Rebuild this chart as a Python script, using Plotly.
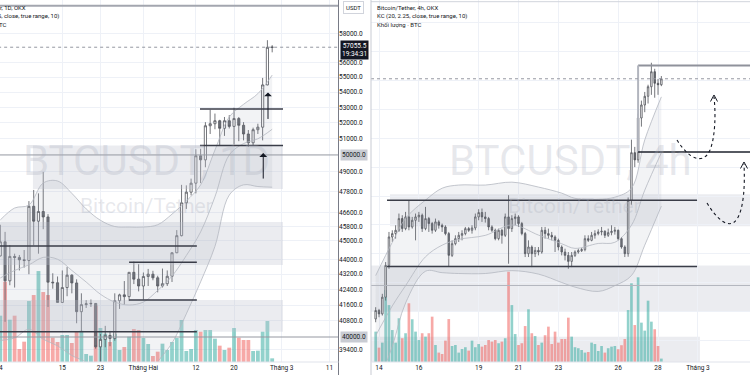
import math
import pandas as pd
import plotly.graph_objects as go

# ---------------- Daily BTC/USDT (left panel) ----------------
d_dates = pd.date_range("2024-01-02", "2024-02-28", freq="D")
d_open = [44180, 44950, 42850, 44150, 44100, 43970, 43930, 46950, 46100, 46650, 46340, 42780, 42750, 41730,
          42500, 43150, 42740, 41260, 41620, 41660, 41680, 39520, 39880, 40080, 39930, 41820, 42120, 42030,
          43300, 42940, 42580, 43080, 43200, 43010, 42580, 42700, 43090, 44350, 45290, 47150, 47770, 48300,
          49950, 49700, 51820, 51950, 52140, 51660, 52140, 51780, 52280, 51850, 51300, 50750, 51570, 51730,
          54480, 57050]
d_high = [45900, 45500, 44770, 44300, 44230, 44500, 47250, 47900, 47700, 48970, 46500, 43250, 43080, 43400,
          43580, 43200, 42930, 42200, 41850, 41880, 41700, 40150, 40550, 40300, 42200, 42180, 42840, 43300,
          43880, 43740, 43290, 43480, 43380, 43120, 43500, 43400, 44380, 45600, 48200, 48170, 48570, 50350,
          50380, 52050, 52850, 52600, 52200, 52380, 52500, 52980, 52380, 52050, 51550, 51700, 51950, 54950,
          57550, 57200]
d_low = [44150, 40750, 42620, 42500, 43400, 43550, 43200, 44750, 44300, 45650, 41500, 42440, 41720, 41720,
         42050, 42200, 40680, 40280, 41450, 41500, 39430, 38550, 39500, 39550, 39820, 41400, 41620, 41800,
         42680, 42300, 41880, 42580, 42880, 42250, 42500, 42580, 42790, 44330, 45250, 46800, 47580, 47700,
         48300, 49250, 51300, 51600, 50600, 51180, 51650, 50650, 50850, 50900, 50500, 50580, 51300, 50900,
         54450, 56700]
d_close = [44950, 42850, 44150, 44100, 43970, 43930, 46950, 46100, 46650, 46340, 42780, 42750, 41730, 42500,
           43150, 42740, 41260, 41620, 41660, 41680, 39520, 39880, 40080, 39930, 41820, 42120, 42030, 43300,
           42940, 42580, 43080, 43200, 43010, 42580, 42700, 43090, 44350, 45290, 47150, 47770, 48300, 49950,
           49700, 51820, 51950, 52140, 51660, 52140, 51780, 52280, 51850, 51300, 50750, 51570, 51730, 54480,
           57050, 57055.5]
d_vol = [13.9, 24.1, 12.7, 13.9, 3.9, 6.1, 18.3, 20.1, 27.3, 21.0, 20.1, 7.3, 6.0, 8.1, 8.1, 5.7, 9.1, 9.4,
         2.4, 1.9, 16.9, 10.2, 8.5, 6.0, 8.4, 3.6, 4.5, 7.6, 9.9, 9.6, 7.2, 5.4, 1.8, 3.1, 5.5, 3.6, 6.0, 7.2,
         12.6, 3.3, 3.9, 9.6, 9.1, 9.6, 9.6, 7.0, 4.9, 3.6, 4.3, 10.2, 7.3, 6.6, 6.6, 3.3, 3.4, 9.1, 12.3, 1.1]

l_kc_t = ["2024-01-02", "2024-01-05", "2024-01-08", "2024-01-11", "2024-01-14", "2024-01-17", "2024-01-20",
          "2024-01-23", "2024-01-26", "2024-01-29", "2024-02-01", "2024-02-04", "2024-02-07", "2024-02-10",
          "2024-02-13", "2024-02-16", "2024-02-19", "2024-02-22", "2024-02-25", "2024-02-28"]
l_kc_up = [46170, 46850, 47020, 48310, 48430, 47700, 46800, 46150, 45800, 45770, 45770, 45900, 46500, 47250,
           48200, 50300, 52380, 53200, 53900, 55140]
l_kc_mid = [43000, 43400, 43700, 44100, 44000, 43400, 42790, 42150, 41750, 41600, 41750, 42350, 43100, 44200,
            45500, 47500, 50000, 50700, 51000, 51600]
l_kc_lo = [39830, 39950, 40380, 39890, 39570, 39100, 38780, 38150, 37700, 37430, 37730, 38800, 39700, 41150,
           42800, 44700, 47600, 48200, 48100, 48060]

# ---------------- 4h BTC/USDT (right panel) ----------------
h_times = pd.date_range("2024-02-13 20:00", periods=87, freq="4h")
h_open = [48750, 49040, 48924, 49502, 50601, 51584, 51700, 51816, 52220, 51873, 52278, 51931, 52162, 52278,
          52336, 51873, 52220, 52047, 51816, 52105, 51989, 51931, 51700, 50948, 51353, 51526, 51642, 51700,
          51873, 51816, 51896, 52278, 52429, 52278, 52220, 51931, 51816, 51526, 51816, 51642, 52278, 51873,
          52220, 52278, 52047, 51700, 51006, 51237, 51006, 51121, 51064, 51816, 51700, 51642, 51584, 51468,
          51237, 51064, 50948, 50740, 50948, 51064, 51110, 51145, 51526, 51468, 51642, 51700, 51758, 51781,
          51642, 51735, 51781, 51816, 51526, 51237, 51006, 52850, 54500, 54250, 55700, 56150, 56450, 56780,
          57300, 56900, 56850]
h_high = [49155, 49097, 49618, 50717, 51758, 51816, 51989, 52394, 52336, 52452, 52857, 52278, 52394, 52452,
          52394, 52625, 52278, 52105, 52220, 52162, 52047, 51989, 51758, 51468, 51642, 51758, 51816, 51931,
          51931, 51989, 52394, 52544, 52567, 52452, 52278, 51989, 51873, 51873, 51873, 52394, 53030, 52336,
          52394, 52336, 52105, 51758, 51468, 51295, 51237, 51237, 51931, 51931, 51873, 51758, 51642, 51526,
          51295, 51179, 51064, 51064, 51121, 51179, 51202, 51642, 51642, 51758, 51816, 51850, 51931, 51816,
          51873, 51989, 51931, 51839, 51584, 51295, 52950, 54950, 54700, 55850, 56300, 56600, 56850, 57610,
          57400, 57050, 57150]
h_low = [48635, 48808, 48866, 49387, 50485, 51411, 51526, 51758, 51758, 51816, 51816, 51873, 51468, 52105,
         51758, 51816, 51758, 51700, 51758, 51873, 51758, 51642, 50566, 50890, 51295, 51411, 51468, 51642,
         51758, 51700, 51816, 52162, 52105, 52082, 51816, 51758, 51468, 51468, 51353, 51584, 50659, 51758,
         51989, 51931, 51642, 50890, 50890, 50543, 50890, 50948, 51006, 51526, 51526, 51468, 51064, 51121,
         50948, 50774, 50485, 50543, 50890, 51006, 51064, 51087, 51411, 51434, 51526, 51642, 51642, 51549,
         51584, 51642, 51665, 51468, 51179, 50890, 50900, 52700, 54000, 54150, 55400, 55900, 56200, 56500,
         56400, 56500, 56800]
h_close = [49040, 48924, 49502, 50601, 51584, 51700, 51816, 52220, 51873, 52278, 51931, 52162, 52278, 52336,
           51873, 52220, 52047, 51816, 52105, 51989, 51931, 51700, 50948, 51353, 51526, 51642, 51700, 51873,
           51816, 51896, 52278, 52429, 52278, 52220, 51931, 51816, 51526, 51816, 51642, 52278, 51873, 52220,
           52278, 52047, 51700, 51006, 51237, 51006, 51121, 51064, 51816, 51700, 51642, 51584, 51468, 51237,
           51064, 50948, 50740, 50948, 51064, 51110, 51145, 51526, 51468, 51642, 51700, 51758, 51781, 51642,
           51735, 51781, 51816, 51526, 51237, 51006, 52850, 54500, 54250, 55700, 56150, 56450, 56780, 57300,
           56900, 56850, 57055.5]
h_vol = [1.52, 0.72, 0.97, 3.6, 2.85, 1.6, 0.97, 2.19, 1.19, 1.44, 2.94, 2.14, 1.52, 1.1, 1.44, 1.27, 1.44,
         2.27, 0.85, 0.47, 0.4, 1.07, 2.15, 0.8, 0.85, 0.47, 0.65, 0.74, 0.57, 1.07, 0.74, 0.9, 0.77, 0.85,
         1.1, 1.02, 1.1, 0.94, 1.02, 1.19, 4.52, 2.85, 1.4, 0.85, 0.94, 1.8, 2.64, 1.44, 1.3, 0.85, 0.97,
         1.34, 1.77, 0.9, 1.52, 0.97, 1.15, 1.15, 2.22, 1.27, 0.74, 0.69, 0.6, 0.47, 0.5, 0.97, 0.9, 0.55,
         0.8, 0.47, 0.69, 0.77, 0.8, 0.64, 0.84, 1.15, 2.6, 3.94, 1.85, 4.24, 1.97, 1.57, 3.07, 2.02, 1.64,
         0.8, 0.17]

r_kc_t = ["2024-02-13 20:00", "2024-02-14 16:00", "2024-02-15 08:00", "2024-02-16 08:00", "2024-02-17 04:00",
          "2024-02-18 00:00", "2024-02-19 08:00", "2024-02-20 16:00", "2024-02-22 00:00", "2024-02-23 04:00",
          "2024-02-23 20:00", "2024-02-25 00:00", "2024-02-25 20:00", "2024-02-26 16:00", "2024-02-27 08:00",
          "2024-02-28 04:00"]
r_kc_up = [50250, 51400, 52230, 52860, 53270, 53380, 53380, 53480, 53310, 53100, 52920, 52890, 52960, 53270,
           54940, 56430]
r_kc_mid = [48170, 49200, 49900, 50900, 51300, 51500, 51640, 52000, 51650, 51350, 51190, 51360, 51400, 51990,
            53200, 54500]
r_kc_lo = [46300, 47800, 49300, 50400, 50350, 50320, 50320, 50420, 50300, 50010, 49850, 49700, 49900, 50250,
           51300, 52650]

# ---------------- axis ticks ----------------
l_ytick_vals = [58000, 56000, 55000, 54000, 53000, 52000, 51000, 49000, 47800, 46600, 45800, 45000,
                44000, 43200, 42400, 41600, 40800, 39400]
l_ytick_text = [f"{v:.1f}" for v in l_ytick_vals]
l_xtick_vals = ["2024-01-15", "2024-01-23", "2024-02-01", "2024-02-12", "2024-02-20", "2024-03-01", "2024-03-11"]
l_xtick_text = ["15", "23", "Tháng Hai", "12", "20", "Tháng 3", "11"]
r_xtick_vals = ["2024-02-14", "2024-02-16", "2024-02-19", "2024-02-21", "2024-02-23", "2024-02-26",
                "2024-02-28", "2024-03-01"]
r_xtick_text = ["14", "16", "19", "21", "23", "26", "28", "Tháng 3"]

last_price = 57055.5

# ---------------- styling ----------------
W, PH = 750, 362
TEAL = "rgba(38,166,154,0.5)"
RED = "rgba(239,83,80,0.5)"
GRID = "#eef1f7"
KC_LINE = "#b4b7c0"
KC_FILL = "rgba(150,155,172,0.12)"
ZONE = "rgba(188,192,205,0.30)"
DARK = "#3a3d48"
FONT = "Roboto, Arial, sans-serif"
L = math.log10


def P(x, y):
    return f"{x / W:.5f},{1 - y / PH:.5f}"


fig = go.Figure()

# volume (drawn first, underneath price)
fig.add_trace(go.Bar(x=d_dates, y=d_vol, xaxis="x", yaxis="y", hoverinfo="skip",
                     marker=dict(color=[TEAL if c >= o else RED for o, c in zip(d_open, d_close)], line_width=0)))
fig.add_trace(go.Bar(x=h_times, y=h_vol, xaxis="x2", yaxis="y3", hoverinfo="skip",
                     marker=dict(color=[TEAL if c >= o else RED for o, c in zip(h_open, h_close)], line_width=0)))


def zone(xa, ya, x0, x1, y0, y1):
    fig.add_trace(go.Scatter(x=[x0, x1, x1, x0, x0], y=[y0, y0, y1, y1, y0], mode="lines", fill="toself",
                             fillcolor=ZONE, line=dict(width=0), xaxis=xa, yaxis=ya, hoverinfo="skip"))


def seg(xa, ya, x0, x1, y, color=DARK, width=1.5, dash="solid"):
    fig.add_trace(go.Scatter(x=[x0, x1], y=[y, y], mode="lines", line=dict(color=color, width=width, dash=dash),
                             xaxis=xa, yaxis=ya, hoverinfo="skip"))


def kc(t, up, mid, lo, xa, ya):
    ln = dict(color=KC_LINE, width=0.8, shape="spline")
    fig.add_trace(go.Scatter(x=t, y=up, mode="lines", line=ln, xaxis=xa, yaxis=ya, hoverinfo="skip"))
    fig.add_trace(go.Scatter(x=t, y=lo, mode="lines", line=ln, fill="tonexty", fillcolor=KC_FILL,
                             xaxis=xa, yaxis=ya, hoverinfo="skip"))
    fig.add_trace(go.Scatter(x=t, y=mid, mode="lines", line=ln, xaxis=xa, yaxis=ya, hoverinfo="skip"))


def candles(x, o, h, l, c, xa, ya):
    fig.add_trace(go.Candlestick(
        x=x, open=o, high=h, low=l, close=c, xaxis=xa, yaxis=ya, hoverinfo="skip", whiskerwidth=0,
        increasing=dict(line=dict(color="#505359", width=0.8), fillcolor="#ffffff"),
        decreasing=dict(line=dict(color="#505359", width=0.8), fillcolor="#6b6e75")))


# left panel: zones, KC, candles, drawn levels
zone("x", "y2", "2024-01-08 20:30", "2024-03-01 06:30", 47950, 50580)
zone("x", "y2", "2023-12-25", "2024-03-01 06:30", 43690, 46060)
zone("x", "y2", "2023-12-25", "2024-03-01 06:30", 40260, 41856)
kc(l_kc_t, l_kc_up, l_kc_mid, l_kc_lo, "x", "y2")
candles(d_dates, d_open, d_high, d_low, d_close, "x", "y2")
seg("x", "y2", "2023-12-25", "2024-02-12 05:00", 44720)
seg("x", "y2", "2023-12-25", "2024-02-12 05:00", 40260)
seg("x", "y2", "2024-01-29", "2024-02-12 05:00", 43835)
seg("x", "y2", "2024-01-29", "2024-02-12 05:00", 41856)
seg("x", "y2", "2024-02-12 20:40", "2024-03-01 06:30", 52890)
seg("x", "y2", "2024-02-12 20:40", "2024-03-01 06:30", 50580)
seg("x", "y2", "2023-12-25", "2024-03-20", 60030, color="#a3a6af", width=2)
seg("x", "y2", "2023-12-25", "2024-03-20", last_price, color="#9598a1", width=1, dash="dot")
seg("x", "y2", "2023-12-25", "2024-03-20", 50000, color="#9598a1", width=1)
seg("x", "y2", "2023-12-25", "2024-03-20", 40000, color="#9598a1", width=1)

# right panel
kc(r_kc_t, r_kc_up, r_kc_mid, r_kc_lo, "x2", "y4")
candles(h_times, h_open, h_high, h_low, h_close, "x2", "y4")

shapes = []


def rect(xr, yr, x0, x1, y0, y1, fill=ZONE, layer="below"):
    shapes.append(dict(type="rect", xref=xr, yref=yr, x0=x0, x1=x1, y0=y0, y1=y1, fillcolor=fill,
                       line=dict(width=0), layer=layer))


def hline(xr, yr, x0, x1, y, color=DARK, width=1.5, dash="solid"):
    shapes.append(dict(type="line", xref=xr, yref=yr, x0=x0, x1=x1, y0=y, y1=y,
                       line=dict(color=color, width=width, dash=dash), layer="above"))


rect("x2", "y4", "2024-02-14 13:15", "2024-03-06", 51954, 53065)
rect("x2", "y4", "2024-02-12", "2024-03-06", 49005, 50601)
hline("x2", "y4", "2024-02-12", "2024-03-06", 49907, color="#b2b5be", width=1)
rect("x2", "y4", "2024-02-12", "2024-03-01 02:30", 46000, 48137)
hline("x2", "y4", "2024-02-14 09:40", "2024-02-29 23:00", 52856)
hline("x2", "y4", "2024-02-14 09:40", "2024-02-29 23:00", 50566)
hline("x2", "y4", "2024-02-27 00:00", "2024-03-06", 57517, color="#8f929b", width=2)
shapes.append(dict(type="line", xref="x2", yref="y4", x0="2024-02-27 00:00", x1="2024-02-27 00:00",
                   y0=54522, y1=57517, line=dict(color="#b2b5be", width=2), layer="above"))
hline("x2", "y4", "2024-02-27 00:00", "2024-03-06", 54522, color="#1e222d", width=1.5)
hline("paper", "y4", 371 / W, 1, last_price, color="#9598a1", width=1, dash="dot")
hline("paper", "paper", 371 / W, 1, 1 - 1.7 / PH, color="#d1d4dc", width=1)

# dotted curved arrows (annotation drawings, paper coords)
for path in [
    f"M {P(677,140)} C {P(688,158)} {P(703,166)} {P(710,150)} C {P(715,138)} {P(716,115)} {P(714,97)}",
    f"M {P(707,203)} C {P(716,218)} {P(729,231)} {P(737,219)} C {P(744,208)} {P(745,185)} {P(744,164)}",
]:
    shapes.append(dict(type="path", xref="paper", yref="paper", path=path,
                       line=dict(color="#131722", width=1.1, dash="dot"), layer="above"))
for path in [f"M {P(710.5,101.5)} L {P(714,95)} L {P(717.5,101.5)}",
             f"M {P(740.5,168.5)} L {P(744,162)} L {P(747.5,168.5)}"]:
    shapes.append(dict(type="path", xref="paper", yref="paper", path=path,
                       line=dict(color="#131722", width=1), layer="above"))

# panel borders
shapes.append(dict(type="line", xref="paper", yref="paper", x0=338.5 / W, x1=338.5 / W, y0=-13 / PH, y1=1,
                   line=dict(color="#787b86", width=1)))
shapes.append(dict(type="line", xref="paper", yref="paper", x0=371 / W, x1=371 / W, y0=-13 / PH, y1=1,
                   line=dict(color="#c8cbd3", width=1)))
shapes.append(dict(type="line", xref="paper", yref="paper", x0=0, x1=338.5 / W, y0=0, y1=0,
                   line=dict(color="#e0e3eb", width=1)))
shapes.append(dict(type="line", xref="paper", yref="paper", x0=371 / W, x1=1, y0=0, y1=0,
                   line=dict(color="#e0e3eb", width=1)))

ann = []


def text(x, y, s, size=6, color="#131722", xanchor="left", xref="paper", yref="paper", **kw):
    ann.append(dict(x=x, y=y, xref=xref, yref=yref, text=s, showarrow=False, xanchor=xanchor,
                    yanchor=kw.pop("yanchor", "middle"), font=dict(size=size, color=color, family=FONT), **kw))


# legends
text(28 / W, 1 - 8 / PH, "Bitcoin/Tether, 1D, OKX", xanchor="right")
text(61 / W, 1 - 16 / PH, "KC (20, 2.25, close, true range, 10)", xanchor="right")
text(7.5 / W, 1 - 24 / PH, "Khối lượng · BTC", xanchor="right")
text(375 / W, 1 - 8 / PH, "Bitcoin/Tether, 4h, OKX")
text(375 / W, 1 - 16 / PH, "KC (20, 2.25, close, true range, 10)")
text(375 / W, 1 - 24 / PH, "Khối lượng · BTC")

# watermarks
WM = "rgba(170,174,188,0.28)"
text(146 / W, 1 - 160 / PH, "BTCUSDT, 1D", size=42, color=WM, xanchor="center")
text(146 / W, 1 - 206 / PH, "Bitcoin/Tether", size=21, color=WM, xanchor="center")
text(570 / W, 1 - 160 / PH, "BTCUSDT, 4h", size=42, color=WM, xanchor="center")
text(574 / W, 1 - 206 / PH, "Bitcoin/Tether", size=21, color=WM, xanchor="center")

# price axis badges
text(353.5 / W, 1 - 8 / PH, "USDT", size=6, xanchor="center", bgcolor="#ffffff", bordercolor="#d1d4dc",
     borderwidth=1, borderpad=2)
text(339.5 / W, 1 - 50 / PH, "57055.5<br>19:34:31", size=6.5, color="#ffffff", bgcolor="#131722", borderpad=1)
text(339.5 / W, L(50000), "50000.0", size=6.5, yref="y2", bgcolor="#c9ccd3", borderpad=1)
text(339.5 / W, L(40000), "40000.0", size=6.5, yref="y2", bgcolor="#c9ccd3", borderpad=1)
text(-4.5 / W, -6 / PH, "2024", size=6.5, xanchor="center")

# up arrows in left panel
for t, p, dy in [("2024-02-27 03:00", 53980, 28), ("2024-02-26 03:00", 50115, 27)]:
    ann.append(dict(x=t, y=L(p), xref="x", yref="y2", text="", showarrow=True, ax=0, ay=dy,
                    arrowhead=1, arrowsize=1.3, arrowwidth=1, arrowcolor="#131722"))

axis_common = dict(showgrid=True, gridcolor=GRID, gridwidth=1, zeroline=False, showline=False, ticks="",
                   fixedrange=True)

fig.update_layout(
    width=750, height=375, margin=dict(l=0, r=0, t=0, b=13),
    paper_bgcolor="#ffffff", plot_bgcolor="#ffffff", showlegend=False, hovermode=False,
    font=dict(family=FONT, size=6.5, color="#131722"),
    bargap=0.2, boxgap=0.35,
    xaxis=dict(domain=[0, 338 / W], type="date", range=["2024-01-01 22:30", "2024-03-12 19:10"],
               tickmode="array", tickvals=l_xtick_vals, ticktext=l_xtick_text, anchor="y",
               rangeslider=dict(visible=False), tickfont=dict(size=6.5), **axis_common),
    yaxis=dict(domain=[0, 1], range=[0, max(d_vol) * 3.98], visible=False, anchor="x", fixedrange=True),
    yaxis2=dict(overlaying="y", anchor="x", side="right", type="log",
                range=[L(38793), L(60456)], tickmode="array", tickvals=l_ytick_vals, ticktext=l_ytick_text,
                tickfont=dict(size=6.5), **axis_common),
    xaxis2=dict(domain=[371 / W, 1], type="date", range=["2024-02-13 14:22", "2024-03-03 14:45"],
                tickmode="array", tickvals=r_xtick_vals, ticktext=r_xtick_text, anchor="y3",
                rangeslider=dict(visible=False), tickfont=dict(size=6.5), **axis_common),
    yaxis3=dict(domain=[0, 1], range=[0, max(h_vol) * 4.01], visible=False, anchor="x2", fixedrange=True),
    yaxis4=dict(overlaying="y3", anchor="x2", side="right", range=[47260, 59780], dtick=1000,
                showticklabels=False, **axis_common),
    shapes=shapes, annotations=ann,
)

fig.write_html("out.html")
